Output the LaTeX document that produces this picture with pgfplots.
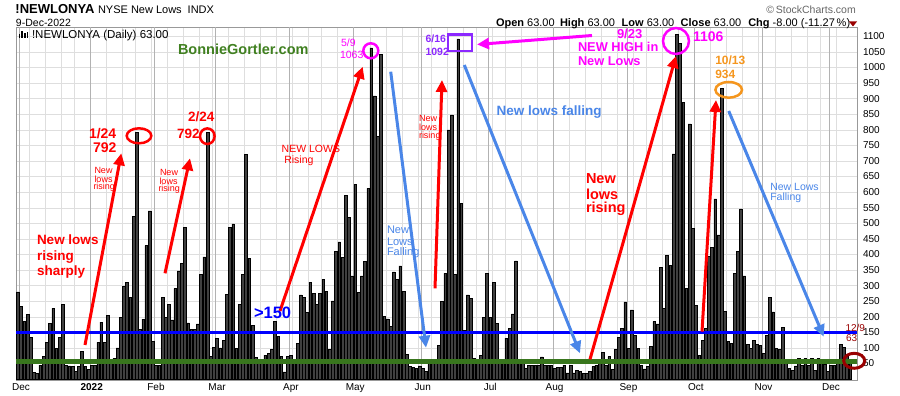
\documentclass[border=0pt]{standalone}
\usepackage{fontspec}
\setmainfont{Liberation Sans}
\usepackage{pgfplots}
\pgfplotsset{compat=1.18}
\usepackage{pgfplotstable}
\usetikzlibrary{arrows.meta}
\definecolor{barfill}{HTML}{404040}
\definecolor{annred}{RGB}{255,0,0}
\definecolor{annmag}{RGB}{255,0,255}
\definecolor{annpur}{RGB}{140,40,255}
\definecolor{annblue}{RGB}{74,134,232}
\definecolor{lineblue}{RGB}{0,0,255}
\definecolor{linegreen}{RGB}{56,118,29}
\definecolor{txtgreen}{RGB}{64,128,32}
\definecolor{annorange}{RGB}{245,150,30}
\definecolor{anndred}{RGB}{153,0,0}
\newcommand{\fs}[1]{\fontsize{#1}{#1}\selectfont}
\pgfplotstableread{
x y
-1 280
0 234
1 186
2 208
3 134
4 21
5 18
6 45
7 73
8 118
9 179
10 227
11 98
12 134
13 240
14 45
15 42
16 40
17 25
18 40
19 88
20 40
21 30
22 45
23 45
24 118
25 183
26 118
27 205
28 50
29 66
30 100
31 198
32 298
33 311
34 262
35 522
36 792
37 160
38 192
39 428
40 540
41 120
42 45
43 45
44 262
45 198
46 240
47 190
48 290
49 347
50 371
51 486
52 180
53 160
54 160
55 177
56 337
57 392
58 792
59 73
60 102
61 131
62 100
63 125
64 272
65 486
66 498
67 98
68 240
69 337
70 722
71 388
72 173
73 69
74 61
75 60
76 77
77 82
78 96
79 186
80 138
81 73
82 23
83 72
84 76
85 55
86 115
87 270
88 261
89 214
90 311
91 276
92 240
93 276
94 320
95 282
96 96
97 251
98 411
99 440
100 391
101 590
102 518
103 331
104 625
105 278
106 331
107 378
108 612
109 1063
110 909
111 779
112 1041
113 202
114 193
115 170
116 344
117 320
118 363
119 282
120 79
121 40
122 38
123 34
124 42
125 35
126 24
127 64
128 55
129 64
130 109
131 250
132 339
133 800
134 848
135 337
136 1092
137 564
138 157
139 270
140 259
141 66
142 63
143 75
144 199
145 339
146 197
147 311
148 179
149 63
150 50
151 131
152 163
153 209
154 379
155 60
156 61
157 35
158 45
159 45
160 45
161 45
162 71
163 45
164 45
165 43
166 35
167 37
168 37
169 45
170 20
171 45
172 20
173 29
174 24
175 18
176 18
177 24
178 40
179 45
180 50
181 86
182 45
183 72
184 31
185 96
186 134
187 162
188 248
189 98
190 222
191 141
192 98
193 43
194 33
195 40
196 104
197 184
198 177
199 359
200 227
201 396
202 366
203 723
204 1106
205 1078
206 889
207 291
208 819
209 484
210 236
211 77
212 123
213 163
214 394
215 422
216 578
217 463
218 934
219 218
220 120
221 115
222 339
223 411
224 546
225 331
226 111
227 98
228 125
229 111
230 107
231 82
232 141
233 262
234 216
235 98
236 96
237 166
238 55
239 34
240 27
241 42
242 66
243 43
244 66
245 45
246 66
247 29
248 66
249 64
250 47
251 24
252 45
253 45
254 55
255 111
256 102
257 72
258 63
}\newlows
\tikzset{
  rarrow/.style={draw=annred, line width=3pt, -{Triangle[length=12pt,width=11pt]}},
  barrow/.style={draw=annblue, line width=3pt, -{Triangle[length=12pt,width=11pt]}},
  lab/.style={anchor=base west, inner sep=0pt, outer sep=0pt},
}
\begin{document}
\begin{tikzpicture}
\useasboundingbox (0pt,0pt) rectangle (900pt,396pt);
\begin{axis}[
  at={(16pt,16pt)}, anchor=south west,
  scale only axis, width=841pt, height=353pt,
  xmin=-1.55, xmax=260.1, ymin=-3, ymax=1130,
  axis line style={draw=black!40},
  major tick length=0pt, minor tick length=0pt,
  ytick={50,100,...,1100},
  yticklabel pos=right,
  yticklabel style={font=\fs{10}, anchor=west, xshift=2.5pt,
    /pgf/number format/1000 sep={}, /pgf/number format/assume math mode=true},
  xtick={0,22,42,61,84,104,125,146,166,189,210,231,252},
  xticklabels={Dec,\textbf{2022},Feb,Mar,Apr,May,Jun,Jul,Aug,Sep,Oct,Nov,Dec},
  xticklabel style={font=\fs{10}},
  ymajorgrids=true, xmajorgrids=false,
  major grid style={draw=black!13},
  minor xtick={2.5,7.5,12.5,16.5,26.5,31.5,35.5,40.5,45.5,50.5,55.5,59.5,64.5,69.5,74.5,79.5,84.5,89.5,93.5,98.5,108.5,113.5,118.5,123.5,127.5,132.5,137.5,141.5,146.5,150.5,155.5,160.5,170.5,175.5,180.5,185.5,190.5,194.5,199.5,204.5,214.5,219.5,224.5,229.5,234.5,239.5,244.5,248.5,253.5},
  xminorgrids=true,
  minor grid style={draw=black!13},
  extra x ticks={-0.5,21.5,41.5,60.5,83.5,103.5,124.5,145.5,165.5,188.5,209.5,230.5,251.5},
  extra x tick labels={},
  extra x tick style={grid=major, major grid style={draw=black!30}},
]
\addplot[ybar, bar width=0.84, fill=barfill, draw=black, line width=0.5pt] table[x=x,y=y] {\newlows};
\addplot[lineblue, line width=3pt, forget plot] coordinates {(-1.55,150) (260.1,150)};
\addplot[linegreen, line width=5pt, forget plot] coordinates {(-1.55,55) (260.1,55)};
\end{axis}
\begin{scope}[x=1pt, y=-1pt, shift={(0pt,396pt)}]
% header
\node[lab, font=\bfseries\fs{13}] at (15.5,14) {!NEWLONYA};
\node[lab, font=\fs{11}] at (98,14) {NYSE New Lows};
\node[lab, font=\fs{11}] at (187.7,14) {INDX};
\node[lab, font=\fs{10.5}] at (16,27) {9-Dec-2022};
\node[anchor=base east, inner sep=0pt, font=\fs{10.5}, text=black!60] at (856,13.5) {\textcopyright\,StockCharts.com};
\node[lab, font=\fs{11}] at (496,26.5) {\textbf{Open} 63.00};
\node[lab, font=\fs{11}] at (560,26.5) {\textbf{High} 63.00};
\node[lab, font=\fs{11}] at (621.7,26.5) {\textbf{Low} 63.00};
\node[lab, font=\fs{11}] at (680.7,26.5) {\textbf{Close} 63.00};
\node[lab, font=\fs{11}] at (748.3,26.5) {\textbf{Chg} -8.00 (-11.27\,\%)};
\fill[anndred] (849,21.5) -- (857,21.5) -- (853,26.5) -- cycle;
% in-plot legend
\fill[black] (18.5,34) rectangle (20.3,38.5);
\fill[black] (21.2,31.5) rectangle (23,38.5);
\fill[black] (23.9,33) rectangle (25.7,38.5);
\fill[black] (26.6,32) rectangle (28.4,38.5);
\node[lab, font=\fs{11.5}] at (32,38.5) {!NEWLONYA (Daily) 63.00};
\node[lab, font=\bfseries\fs{14.5}, text=txtgreen] at (178,55) {BonnieGortler.com};
% red annotations
\node[lab, font=\bfseries\fs{13.5}, text=annred] at (37,245) {New lows};
\node[lab, font=\bfseries\fs{13.5}, text=annred] at (37,260.5) {rising};
\node[lab, font=\bfseries\fs{13.5}, text=annred] at (37,276) {sharply};
\draw[rarrow] (85,345) -- (121.3,153.3);
\node[lab, font=\bfseries\fs{14}, text=annred] at (89,138.5) {1/24};
\node[lab, font=\bfseries\fs{14}, text=annred] at (93,152.5) {792};
\draw[annred, line width=2.5pt] (139,135.8) ellipse [x radius=12.3, y radius=7.5];
\node[lab, font=\fs{9}, text=annred] at (94.5,173.3) {New};
\node[lab, font=\fs{9}, text=annred] at (94.5,182.5) {lows};
\node[lab, font=\fs{9}, text=annred] at (93.5,189.8) {rising};
\draw[rarrow] (165,273.3) -- (190,158.3);
\node[lab, font=\bfseries\fs{13.5}, text=annred] at (188,121.5) {2/24};
\node[lab, font=\bfseries\fs{13.5}, text=annred] at (177,139) {792};
\draw[annred, line width=2.5pt] (207.3,136.2) ellipse [x radius=7.3, y radius=7.8];
\node[lab, font=\fs{9}, text=annred] at (160,175.5) {New};
\node[lab, font=\fs{9}, text=annred] at (159.5,184.5) {lows};
\node[lab, font=\fs{9}, text=annred] at (158.5,191.8) {rising};
\draw[rarrow] (280,311) -- (362.7,66.7);
\node[lab, font=\fs{10.5}, text=annred] at (281.7,152.5) {NEW LOWS};
\node[lab, font=\fs{10.5}, text=annred] at (284.3,163.8) {Rising};
\draw[rarrow] (435,288.3) -- (442,80);
\node[lab, font=\fs{9}, text=annred] at (419,121.7) {New};
\node[lab, font=\fs{9}, text=annred] at (419,130.7) {lows};
\node[lab, font=\fs{9}, text=annred] at (419,138.3) {rising};
\draw[rarrow] (590,359.3) -- (676,56);
\node[lab, font=\bfseries\fs{14.5}, text=annred] at (586,183.3) {New};
\node[lab, font=\bfseries\fs{14.5}, text=annred] at (586,199.3) {lows};
\node[lab, font=\bfseries\fs{14.5}, text=annred] at (586,212.3) {rising};
\draw[rarrow] (702,331.7) -- (716,100);
% blue
\node[lab, font=\bfseries\fs{16.5}, text=lineblue] at (254,318.3) {>150};
\draw[barrow] (390.7,71.7) -- (426,347.7);
\node[lab, font=\fs{11}, text=annblue] at (387,233.3) {New};
\node[lab, font=\fs{11}, text=annblue] at (387,245.7) {Lows};
\node[lab, font=\fs{11}, text=annblue] at (387,256) {Falling};
\draw[barrow] (464.3,65) -- (580,353.3);
\node[lab, font=\bfseries\fs{13.5}, text=annblue] at (496.7,115.5) {New lows falling};
\draw[barrow] (728.7,111) -- (823.7,336.7);
\node[lab, font=\fs{10.5}, text=annblue] at (770.3,191) {New Lows};
\node[lab, font=\fs{10.5}, text=annblue] at (770.3,201) {Falling};
% magenta / purple
\node[lab, font=\fs{10.5}, text=annmag] at (341,47) {5/9};
\node[lab, font=\fs{10.5}, text=annmag] at (340,58.5) {1063};
\draw[annmag, line width=2.5pt] (370.8,50.8) circle [radius=7.5];
\node[lab, font=\bfseries\fs{10.5}, text=annpur] at (425.5,42.3) {6/16};
\node[lab, font=\bfseries\fs{10.5}, text=annpur] at (425.5,55.5) {1092};
\draw[annpur, line width=2.5pt] (448,34.5) rectangle (472,51);
\draw[annmag, line width=3pt, -{Triangle[length=12pt,width=11pt]}] (592,35.5) -- (477,44.5);
\node[lab, font=\bfseries\fs{13}, text=annmag] at (617,39) {9/23};
\node[lab, font=\bfseries\fs{12.8}, text=annmag] at (578,52) {NEW HIGH in};
\node[lab, font=\bfseries\fs{12.8}, text=annmag] at (578,65.5) {New Lows};
\draw[annmag, line width=2.5pt] (676,41) circle [radius=13];
\node[lab, font=\bfseries\fs{14}, text=annmag] at (693,41.5) {1106};
% orange
\node[lab, font=\bfseries\fs{12}, text=annorange] at (715.3,64.3) {10/13};
\node[lab, font=\bfseries\fs{12}, text=annorange] at (715.3,78.3) {934};
\draw[annorange, line width=2.5pt] (728.7,89.8) ellipse [x radius=13.3, y radius=7.8];
% dark red
\node[lab, font=\fs{10}, text=anndred] at (845.5,331.7) {12/9};
\node[lab, font=\fs{10}, text=anndred] at (846,341.7) {63};
\draw[anndred, line width=3pt] (854.2,360.8) ellipse [x radius=10.5, y radius=7.5];
\end{scope}
\end{tikzpicture}
\end{document}
